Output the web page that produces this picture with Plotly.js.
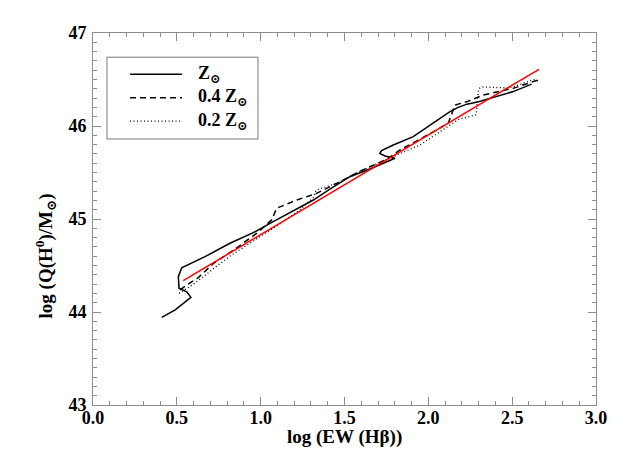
<!DOCTYPE html>
<html>
<head>
<meta charset="utf-8">
<script src="https://cdn.plot.ly/plotly-3.0.1.min.js"></script>
<style>html,body{margin:0;padding:0;background:#fff;}#chart{width:628px;height:473px;}</style>
</head>
<body>
<div id="chart"></div>
<script>
// Z_sun model track
var solarX = [0.41, 0.49, 0.584, 0.559, 0.513, 0.509, 0.529, 0.668, 0.817, 0.956, 1.075, 1.234, 1.314, 1.42, 1.532, 1.662, 1.801, 1.741, 1.711, 1.721, 1.791, 1.91, 2.129, 2.178, 2.23, 2.30, 2.506, 2.616];
var solarY = [43.943, 44.022, 44.157, 44.218, 44.255, 44.38, 44.476, 44.595, 44.739, 44.853, 44.971, 45.12, 45.204, 45.33, 45.455, 45.545, 45.653, 45.678, 45.706, 45.735, 45.796, 45.885, 46.154, 46.20, 46.235, 46.26, 46.37, 46.45];
// 0.4 Z_sun model track
var z04X = [0.519, 0.559, 0.628, 0.717, 0.85, 0.976, 1.066, 1.095, 1.215, 1.334, 1.45, 1.6, 1.75, 1.831, 1.95, 2.119, 2.159, 2.228, 2.327, 2.427, 2.506, 2.655, 2.666];
var z04Y = [44.237, 44.29, 44.37, 44.52, 44.68, 44.846, 44.99, 45.115, 45.204, 45.276, 45.38, 45.52, 45.64, 45.742, 45.857, 46.03, 46.226, 46.26, 46.333, 46.37, 46.405, 46.495, 46.48];
// 0.2 Z_sun model track
var z02X = [0.513, 0.60, 0.747, 0.827, 0.936, 1.10, 1.234, 1.314, 1.33, 1.453, 1.6, 1.75, 1.95, 2.087, 2.18, 2.285, 2.30, 2.32, 2.467, 2.506, 2.626, 2.666];
var z02Y = [44.20, 44.30, 44.505, 44.613, 44.739, 44.93, 45.10, 45.23, 45.31, 45.384, 45.52, 45.64, 45.796, 45.96, 46.07, 46.12, 46.40, 46.42, 46.41, 46.42, 46.50, 46.48];
// linear fit
var fitX = [0.538, 2.66];
var fitY = [44.337, 46.61];

var legendNames = ['Z<sub>⊙</sub>', '0.4 Z<sub>⊙</sub>', '0.2 Z<sub>⊙</sub>'];
var xTitle = 'log (EW (Hβ))';
var yTitle = 'log (Q(H<sup>0</sup>)/M<sub>⊙</sub>)';

var F = '"Liberation Serif", "DejaVu Serif", serif';
var traces = [
  {x: solarX, y: solarY, mode: 'lines', line: {color: '#000', width: 1.5}, showlegend: false, name: 'Z⊙'},
  {x: z04X, y: z04Y, mode: 'lines', line: {color: '#000', width: 1.5, dash: '6px,4px'}, showlegend: false, name: '0.4 Z⊙'},
  {x: z02X, y: z02Y, mode: 'lines', line: {color: '#000', width: 1.3, dash: '1px,2.5px'}, showlegend: false, name: '0.2 Z⊙'},
  {x: fitX, y: fitY, mode: 'lines', line: {color: '#ff0000', width: 1.5}, showlegend: false, name: 'fit'}
];

var axisCommon = {
  showgrid: false, zeroline: false, showline: true, linecolor: '#8c8c8c', linewidth: 1,
  mirror: 'ticks', ticks: 'inside', ticklen: 8, tickcolor: '#8c8c8c', tickwidth: 1,
  tickprefix: '<b>', ticksuffix: '</b>',
  tickfont: {family: F, size: 18, color: '#000', weight: 700}
};

var lx0 = 0.0736, lx1 = 0.177, tx = 0.205;
var ly = [0.889, 0.826, 0.763];
var dashes = ['solid', '6px,4px', '1px,2.5px'];
var shapes = [{type: 'rect', xref: 'paper', yref: 'paper', x0: 0.0278, x1: 0.328, y0: 0.715, y1: 0.935, line: {color: '#777', width: 1}}];
var annotations = [];
for (var i = 0; i < 3; i++) {
  shapes.push({type: 'line', xref: 'paper', yref: 'paper', x0: lx0, x1: lx1, y0: ly[i], y1: ly[i], line: {color: '#000', width: i === 2 ? 1.2 : 1.5, dash: dashes[i]}});
  annotations.push({xref: 'paper', yref: 'paper', x: tx, y: ly[i], xanchor: 'left', yanchor: 'middle', align: 'left', showarrow: false, text: '<b>' + legendNames[i] + '</b>', font: {family: F, size: 18, color: '#000', weight: 700}});
}
annotations.push({xref: 'paper', yref: 'paper', x: -0.095, y: 0.40, xanchor: 'center', yanchor: 'middle', showarrow: false, textangle: -90, text: '<b>' + yTitle + '</b>', font: {family: F, size: 19, color: '#000', weight: 700}});
annotations.push({xref: 'paper', yref: 'paper', x: 0.5, y: -0.086, xanchor: 'center', yanchor: 'middle', showarrow: false, text: '<b>' + xTitle + '</b>', font: {family: F, size: 19, color: '#000', weight: 700}});

var layout = {
  width: 628, height: 473,
  margin: {l: 93, r: 32, t: 33, b: 68},
  paper_bgcolor: '#fff', plot_bgcolor: '#fff',
  font: {family: F, color: '#000'},
  showlegend: false,
  xaxis: Object.assign({}, axisCommon, {range: [0, 3], tickmode: 'linear', tick0: 0, dtick: 0.5, tickformat: '.1f',
    ticklabelstandoff: -4,
    minor: {ticks: 'inside', dtick: 0.1, ticklen: 4, tickcolor: '#8c8c8c'}}),
  yaxis: Object.assign({}, axisCommon, {range: [43, 47], tickmode: 'linear', tick0: 43, dtick: 1,
    ticklabelstandoff: 2,
    minor: {ticks: 'inside', dtick: 0.1, ticklen: 4, tickcolor: '#8c8c8c'}}),
  shapes: shapes,
  annotations: annotations
};

Plotly.newPlot('chart', traces, layout, {displayModeBar: false, staticPlot: true});
</script>
</body>
</html>
